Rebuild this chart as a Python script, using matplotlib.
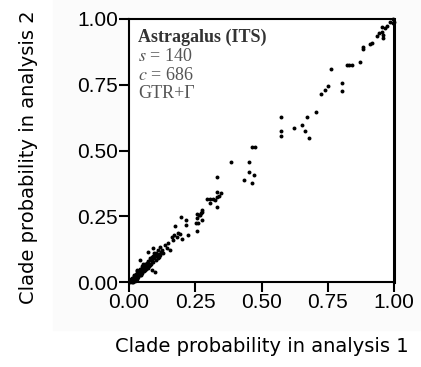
import matplotlib
matplotlib.use("Agg")
import matplotlib.pyplot as plt
from matplotlib.patches import Rectangle

# clade probabilities
run1 = [
    # dense cluster near the origin
    0.005, 0.010, 0.015, 0.020, 0.010, 0.025, 0.030, 0.020, 0.035, 0.030,
    0.040, 0.045, 0.050, 0.040, 0.055, 0.060, 0.050, 0.065, 0.070, 0.060,
    0.075, 0.080, 0.070, 0.085, 0.090, 0.080, 0.095, 0.100, 0.090, 0.105,
    0.110, 0.100, 0.115, 0.120, 0.110, 0.125, 0.130, 0.015, 0.025, 0.035,
    0.045, 0.055, 0.065, 0.075, 0.042, 0.086, 0.073, 0.092, 0.086, 0.098,
    0.008, 0.018, 0.028, 0.038, 0.048, 0.058, 0.068, 0.078, 0.088, 0.098,
    0.003, 0.012, 0.022, 0.032, 0.062, 0.082, 0.108, 0.118,
    0.052, 0.066, 0.094, 0.112, 0.030, 0.044,
    # 0.12 - 0.30
    0.136, 0.142, 0.155, 0.117, 0.148, 0.161, 0.201, 0.186, 0.180, 0.170,
    0.221, 0.174, 0.215, 0.215, 0.196, 0.255, 0.268, 0.277, 0.259, 0.255,
    0.274, 0.270, 0.265, 0.255, 0.253, 0.274, 0.192, 0.165,
    # 0.29 - 0.50
    0.346, 0.341, 0.331, 0.318, 0.306, 0.293, 0.306, 0.333, 0.325, 0.333,
    0.333, 0.384, 0.454, 0.454, 0.473, 0.434, 0.463, 0.463, 0.475,
    # 0.55 - 0.80
    0.572, 0.572, 0.572, 0.623, 0.653, 0.664, 0.673, 0.678, 0.706, 0.723,
    0.740, 0.752, 0.761, 0.803, 0.803,
    # upper right
    0.821, 0.831, 0.840, 0.872, 0.882, 0.882, 0.909, 0.916, 0.935, 0.945,
    0.953, 0.960, 0.957, 0.966, 0.953, 0.975, 0.985, 0.995, 0.998, 1.000,
]
run2 = [
    0.000, 0.005, 0.000, 0.010, 0.015, 0.020, 0.015, 0.025, 0.030, 0.040,
    0.025, 0.040, 0.035, 0.050, 0.050, 0.045, 0.060, 0.060, 0.055, 0.070,
    0.070, 0.065, 0.080, 0.080, 0.075, 0.090, 0.090, 0.085, 0.100, 0.100,
    0.095, 0.110, 0.105, 0.115, 0.120, 0.120, 0.110, 0.002, 0.008, 0.018,
    0.030, 0.040, 0.052, 0.062, 0.084, 0.096, 0.115, 0.128, 0.046, 0.039,
    0.012, 0.022, 0.032, 0.042, 0.052, 0.062, 0.072, 0.082, 0.092, 0.102,
    0.008, 0.000, 0.002, 0.012, 0.050, 0.070, 0.092, 0.102,
    0.068, 0.050, 0.110, 0.095, 0.045, 0.028,
    0.141, 0.128, 0.122, 0.134, 0.147, 0.172, 0.162, 0.185, 0.172, 0.178,
    0.179, 0.213, 0.217, 0.236, 0.246, 0.242, 0.255, 0.267, 0.223, 0.195,
    0.274, 0.261, 0.255, 0.259, 0.226, 0.236, 0.182, 0.160,
    0.337, 0.327, 0.322, 0.314, 0.314, 0.317, 0.299, 0.286, 0.312, 0.343,
    0.398, 0.456, 0.456, 0.417, 0.407, 0.388, 0.378, 0.515, 0.515,
    0.626, 0.575, 0.555, 0.587, 0.597, 0.575, 0.626, 0.546, 0.648, 0.714,
    0.730, 0.746, 0.809, 0.755, 0.726,
    0.825, 0.825, 0.825, 0.838, 0.895, 0.886, 0.905, 0.908, 0.937, 0.946,
    0.952, 0.939, 0.927, 0.965, 0.971, 0.975, 0.990, 0.985, 1.000, 0.990,
]
ticks = [0.00, 0.25, 0.50, 0.75, 1.00]
tick_labels = ["0.00", "0.25", "0.50", "0.75", "1.00"]

plt.rcParams["mathtext.fontset"] = "stix"

fig = plt.figure(figsize=(4.21, 3.67), dpi=100)
# faint grey backdrop of the original embedded panel
bg = Rectangle((53 / 421, 37 / 367), 1 - 53 / 421, 1 - 37 / 367,
               transform=fig.transFigure, color="#fbfbfb", zorder=-10)
fig.add_artist(bg)
ax = fig.add_axes([129 / 421, 85 / 367, 265 / 421, 263 / 367])
ax.set_facecolor("white")

ax.scatter(run1, run2, s=8, color="black", linewidths=0, clip_on=False)

ax.set_xlim(0, 1)
ax.set_ylim(0, 1)
ax.set_xticks(ticks)
ax.set_yticks(ticks)
ax.set_xticklabels(tick_labels, family="Liberation Sans", fontsize=15)
ax.set_yticklabels(tick_labels, family="Liberation Sans", fontsize=15)
ax.tick_params(direction="out", length=7, width=1.5, pad=1, top=False, right=False)
for sp in ax.spines.values():
    sp.set_linewidth(1.5)
ax.spines["right"].set_linewidth(2.2)

ax.set_xlabel("Clade probability in analysis 1", family="DejaVu Sans", fontsize=14,
              labelpad=18)
ax.set_ylabel("Clade probability in analysis 2", family="DejaVu Sans", fontsize=14)
ax.yaxis.set_label_coords(-0.345, 0.475)

ax.text(0.034, 0.932, "Astragalus (ITS)", transform=ax.transAxes, family="Liberation Serif",
        fontweight="bold", fontsize=13, color="#333333", va="center")
ax.text(0.034, 0.859, r"$s$ = 140", transform=ax.transAxes, family="Liberation Serif",
        fontsize=13, color="#555555", va="center")
ax.text(0.034, 0.787, r"$c$ = 686", transform=ax.transAxes, family="Liberation Serif",
        fontsize=13, color="#555555", va="center")
ax.text(0.034, 0.715, "GTR+Γ", transform=ax.transAxes, family="Liberation Serif",
        fontsize=13, color="#555555", va="center")

fig.savefig("out.png", dpi=100)
